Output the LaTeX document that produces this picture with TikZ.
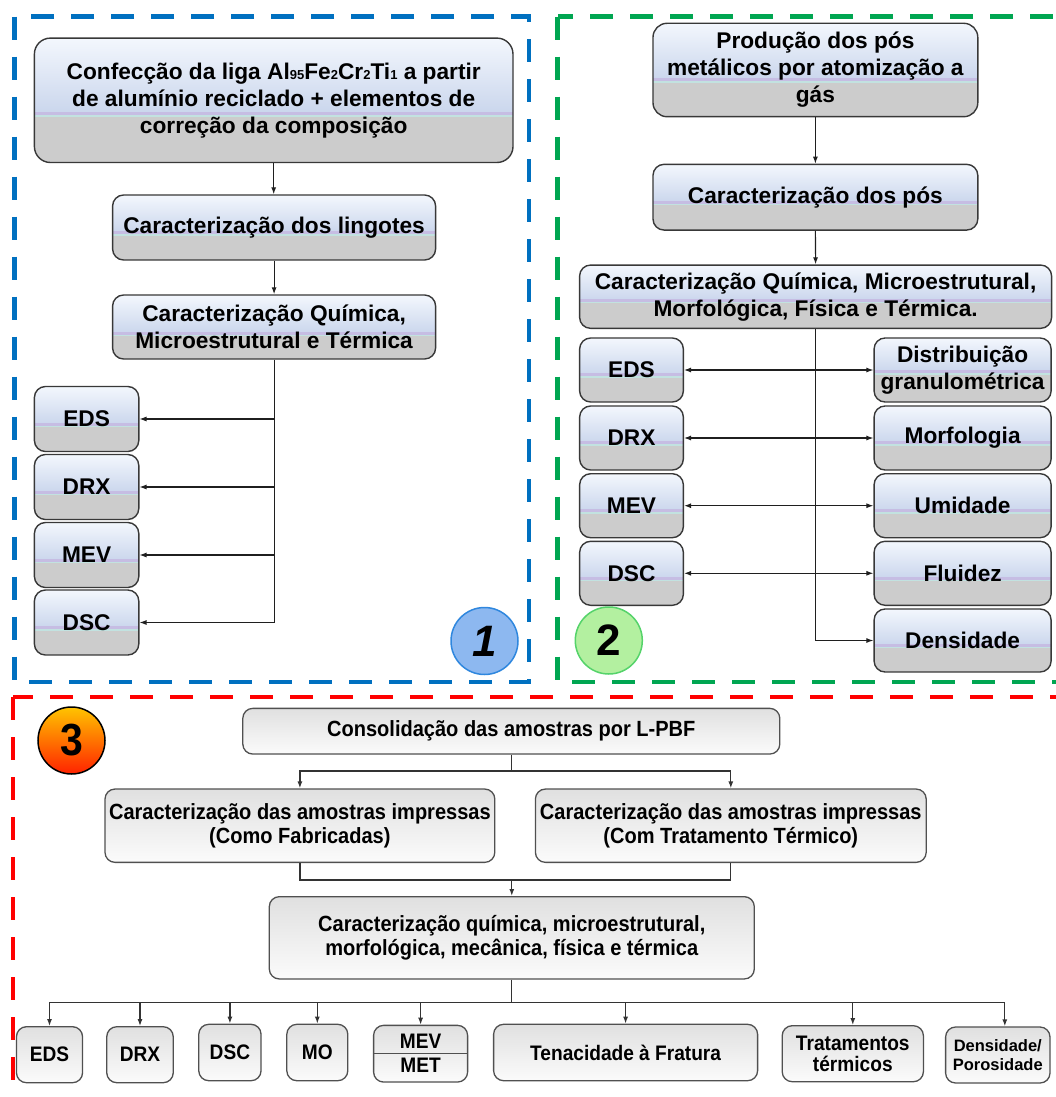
\documentclass[tikz,border=0pt]{standalone}
\usepackage{fontspec}
\setmainfont{Liberation Sans}
\newfontfamily\sthree[FakeStretch=0.91]{Liberation Sans}
\usetikzlibrary{arrows.meta,calc}

\definecolor{fblue}{HTML}{0070C0}
\definecolor{fgreen}{HTML}{00A651}
\definecolor{fred}{HTML}{FF0000}
\definecolor{ptop}{HTML}{F3F7FD}
\definecolor{pmid}{HTML}{C9D5EC}
\definecolor{plav}{HTML}{C6BDE3}
\definecolor{pcyan}{HTML}{C2E2E0}
\definecolor{pgrey}{HTML}{CCCCCC}
\definecolor{bdark}{HTML}{383838}
\definecolor{stop}{HTML}{E0E0E0}
\definecolor{sbot}{HTML}{FBFBFB}
\definecolor{sborder}{HTML}{505050}
\definecolor{c1fill}{HTML}{8DB8F0}
\definecolor{c1draw}{HTML}{2F87DE}
\definecolor{c2fill}{HTML}{B3F0A0}
\definecolor{c2draw}{HTML}{55D36A}
\definecolor{c3top}{HTML}{FFC400}
\definecolor{c3bot}{HTML}{FF2200}

\newcommand\sbn[1]{{\fontsize{13}{13}\selectfont #1}}
\newcommand\mkbox[7]{\node[#1, minimum width=#5pt, minimum height=#6pt] (#2) at (#3,-#4) {#7};}

\tikzset{
 pbox/.style={draw=bdark, line width=1.4pt, rounded corners=11pt, align=center, inner sep=1pt,
  font=\bfseries\fontsize{22.7}{27}\selectfont,
  path picture={
   \coordinate (pA) at (path picture bounding box.north west);
   \coordinate (pB) at (path picture bounding box.south east);
   \coordinate (pM) at ($(pA)!#1!(pA|-pB)$);
   \fill[pgrey, sharp corners] (pM) rectangle (pB);
   \shade[top color=ptop, bottom color=pmid, sharp corners] (pA) rectangle (pM-|pB);
   \fill[plav, sharp corners] ($(pM)+(0,3)$) rectangle (pM-|pB);
   \fill[pcyan, sharp corners] (pM) rectangle ($(pM-|pB)+(0,-1.5)$);
  }},
 pbox/.default=0.6,
 sbox/.style={draw=sborder, line width=1.3pt, rounded corners=10pt, align=center, inner sep=1pt,
  top color=stop, bottom color=sbot,
  font=\sthree\bfseries\fontsize{22}{24.5}\selectfont},
 sboxs/.style={sbox, font=\sthree\bfseries\fontsize{21}{21}\selectfont},
 conn/.style={draw=black!88, line width=1.1pt},
 arr/.style={conn, -{Latex[length=7pt,width=5pt]}},
 darr/.style={conn, {Latex[length=7pt,width=5pt]}-{Latex[length=7pt,width=5pt]}},
 conn3/.style={draw=black!80, line width=1.3pt},
 arr3/.style={conn3, -{Latex[length=7pt,width=5pt]}},
 frame/.style={line width=4.5pt, dash pattern=on 23pt off 17pt},
 circ/.style={circle, minimum size=67pt, inner sep=0pt, line width=1.5pt},
}

\begin{document}
\begin{tikzpicture}[x=1pt,y=1pt]
\useasboundingbox (0,0) rectangle (1056,-1097);
\clip (0,0) rectangle (1056,-1097);

% frames
\draw[frame, fblue] (14.5,-16.7) rectangle (529,-682);
\draw[frame, fgreen] (557.5,-16.7) rectangle (1080,-682);
\draw[frame, fred] (13.1,-697) rectangle (1080,-1120);

% ---------- section 1
\mkbox{pbox=0.62, rounded corners=16pt}{a1}{273.7}{100.3}{478.6}{124.4}{Confecção da liga Al\sbn{95}Fe\sbn{2}Cr\sbn{2}Ti\sbn{1} a partir\\de alumínio reciclado + elementos de\\correção da composição}
\mkbox{pbox}{b1}{274.1}{227.5}{323}{65}{Caracterização dos lingotes}
\mkbox{pbox=0.62}{c1}{274.1}{327}{323}{64}{Caracterização Química,\\Microestrutural e Térmica}
\mkbox{pbox}{eds1}{86.6}{419}{104.4}{65}{EDS}
\mkbox{pbox}{drx1}{86.6}{487}{104.4}{65}{DRX}
\mkbox{pbox}{mev1}{86.6}{555}{104.4}{65}{MEV}
\mkbox{pbox}{dsc1}{86.6}{622.5}{104.4}{65}{DSC}

\draw[arr] (a1.south) -- (a1.south |- b1.north);
\draw[arr] (b1.south) -- (c1.north);
\draw[conn] (c1.south) -- (c1.south |- dsc1.east);
\foreach \n in {eds1,drx1,mev1,dsc1} \draw[arr] (c1.south |- \n.east) -- (\n.east);

\node[circ, fill=c1fill, draw=c1draw, font=\bfseries\itshape\fontsize{44}{44}\selectfont] (n1) at (484.5,-641) {1};

% ---------- section 2
\mkbox{pbox=0.62, rounded corners=14pt}{p2}{815.4}{70}{324.8}{93.4}{Produção dos pós\\metálicos por atomização a\\gás}
\mkbox{pbox}{cp2}{815.4}{197.2}{324.8}{65.7}{Caracterização dos pós}
\mkbox{pbox=0.58}{q2}{815.6}{296.7}{472}{63.3}{Caracterização Química, Microestrutural,\\Morfológica, Física e Térmica.}
\mkbox{pbox}{eds2}{631.5}{370}{103.7}{64}{EDS}
\mkbox{pbox}{drx2}{631.5}{438}{103.7}{64}{DRX}
\mkbox{pbox}{mev2}{631.5}{505.7}{103.7}{64}{MEV}
\mkbox{pbox}{dsc2}{631.5}{573.3}{103.7}{64}{DSC}
\mkbox{pbox=0.55}{dist}{962.6}{370}{177}{64}{Distribuição\\granulométrica}
\mkbox{pbox}{morf}{962.6}{438}{177}{64}{Morfologia}
\mkbox{pbox}{umid}{962.6}{505.7}{177}{64}{Umidade}
\mkbox{pbox}{flui}{962.6}{573.3}{177}{64}{Fluidez}
\mkbox{pbox}{dens}{962.6}{640.5}{177}{63}{Densidade}

\draw[arr] (p2.south) -- (cp2.north);
\draw[arr] (cp2.south) -- (q2.north);
\draw[arr] (q2.south) |- (dens.west);
\draw[darr] (eds2.east) -- (dist.west);
\draw[darr] (drx2.east) -- (morf.west);
\draw[darr] (mev2.east) -- (umid.west);
\draw[darr] (dsc2.east) -- (flui.west);

\node[circ, fill=c2fill, draw=c2draw, font=\bfseries\fontsize{44}{44}\selectfont] (n2) at (608.8,-640.5) {2};

% ---------- section 3
\node[circ, top color=c3top, bottom color=c3bot, draw=black, font=\sthree\bfseries\fontsize{45}{45}\selectfont] (n3) at (71.5,-740.5) {3};

\mkbox{sbox}{cons}{511.3}{731.2}{537}{45.7}{Consolidação das amostras por L-PBF}
\mkbox{sbox}{l3}{299.9}{825.7}{389.8}{73.3}{Caracterização das amostras impressas\\(Como Fabricadas)}
\mkbox{sbox}{r3}{730.8}{825.7}{390.8}{73.3}{Caracterização das amostras impressas\\(Com Tratamento Térmico)}
\mkbox{sbox}{cq}{511.8}{937.8}{485}{82.3}{Caracterização química, microestrutural,\\morfológica, mecânica, física e térmica}

\mkbox{sboxs}{eds3}{49.5}{1054.7}{66.1}{56}{EDS}
\mkbox{sboxs}{drx3}{140}{1054.7}{66.5}{56}{DRX}
\mkbox{sboxs}{dsc3}{229.9}{1052.5}{62.3}{56.4}{DSC}
\mkbox{sboxs}{mo3}{317.3}{1052.5}{61}{56.4}{MO}
\mkbox{sboxs}{mevmet}{420.6}{1053.7}{94}{56.7}{}
\node[font=\sthree\bfseries\fontsize{21}{21}\selectfont] (mevt) at (420.6,-1041.2) {MEV};
\node[font=\sthree\bfseries\fontsize{21}{21}\selectfont] (mett) at (420.6,-1065) {MET};
\draw[sborder, line width=1.3pt] (mevmet.west) -- (mevmet.east);
\mkbox{sboxs}{ten}{625.6}{1052.5}{264}{56.4}{Tenacidade à Fratura}
\mkbox{sboxs, font=\sthree\bfseries\fontsize{21}{21}\selectfont}{trat}{852.8}{1053.7}{141.2}{56}{Tratamentos\\térmicos}
\mkbox{sboxs, font=\bfseries\fontsize{16.5}{19}\selectfont}{denpor}{997.8}{1055}{104.4}{56}{Densidade/\\Porosidade}

\coordinate (j1) at (511.3,-771);
\coordinate (j2) at (511.8,-880);
\coordinate (bus) at (511.8,-1002.3);
\coordinate (dpx) at (1004.8,-1002.3);

\draw[conn3] (cons.south) -- (j1);
\draw[arr3] (j1) -| (l3.north);
\draw[arr3] (j1) -| (r3.north);
\draw[conn3] (l3.south) |- (j2);
\draw[conn3] (r3.south) |- (j2);
\draw[arr3] (j2) -- (cq.north);
\draw[conn3] (cq.south) -- (bus);
\draw[conn3, line width=1.6pt] (eds3.north |- bus) -- (dpx);
\foreach \n in {eds3,drx3,dsc3,mo3,mevmet,ten,trat} \draw[arr3] (\n.north |- bus) -- (\n.north);
\draw[arr3] (dpx) -- (dpx |- denpor.north);
\end{tikzpicture}
\end{document}
